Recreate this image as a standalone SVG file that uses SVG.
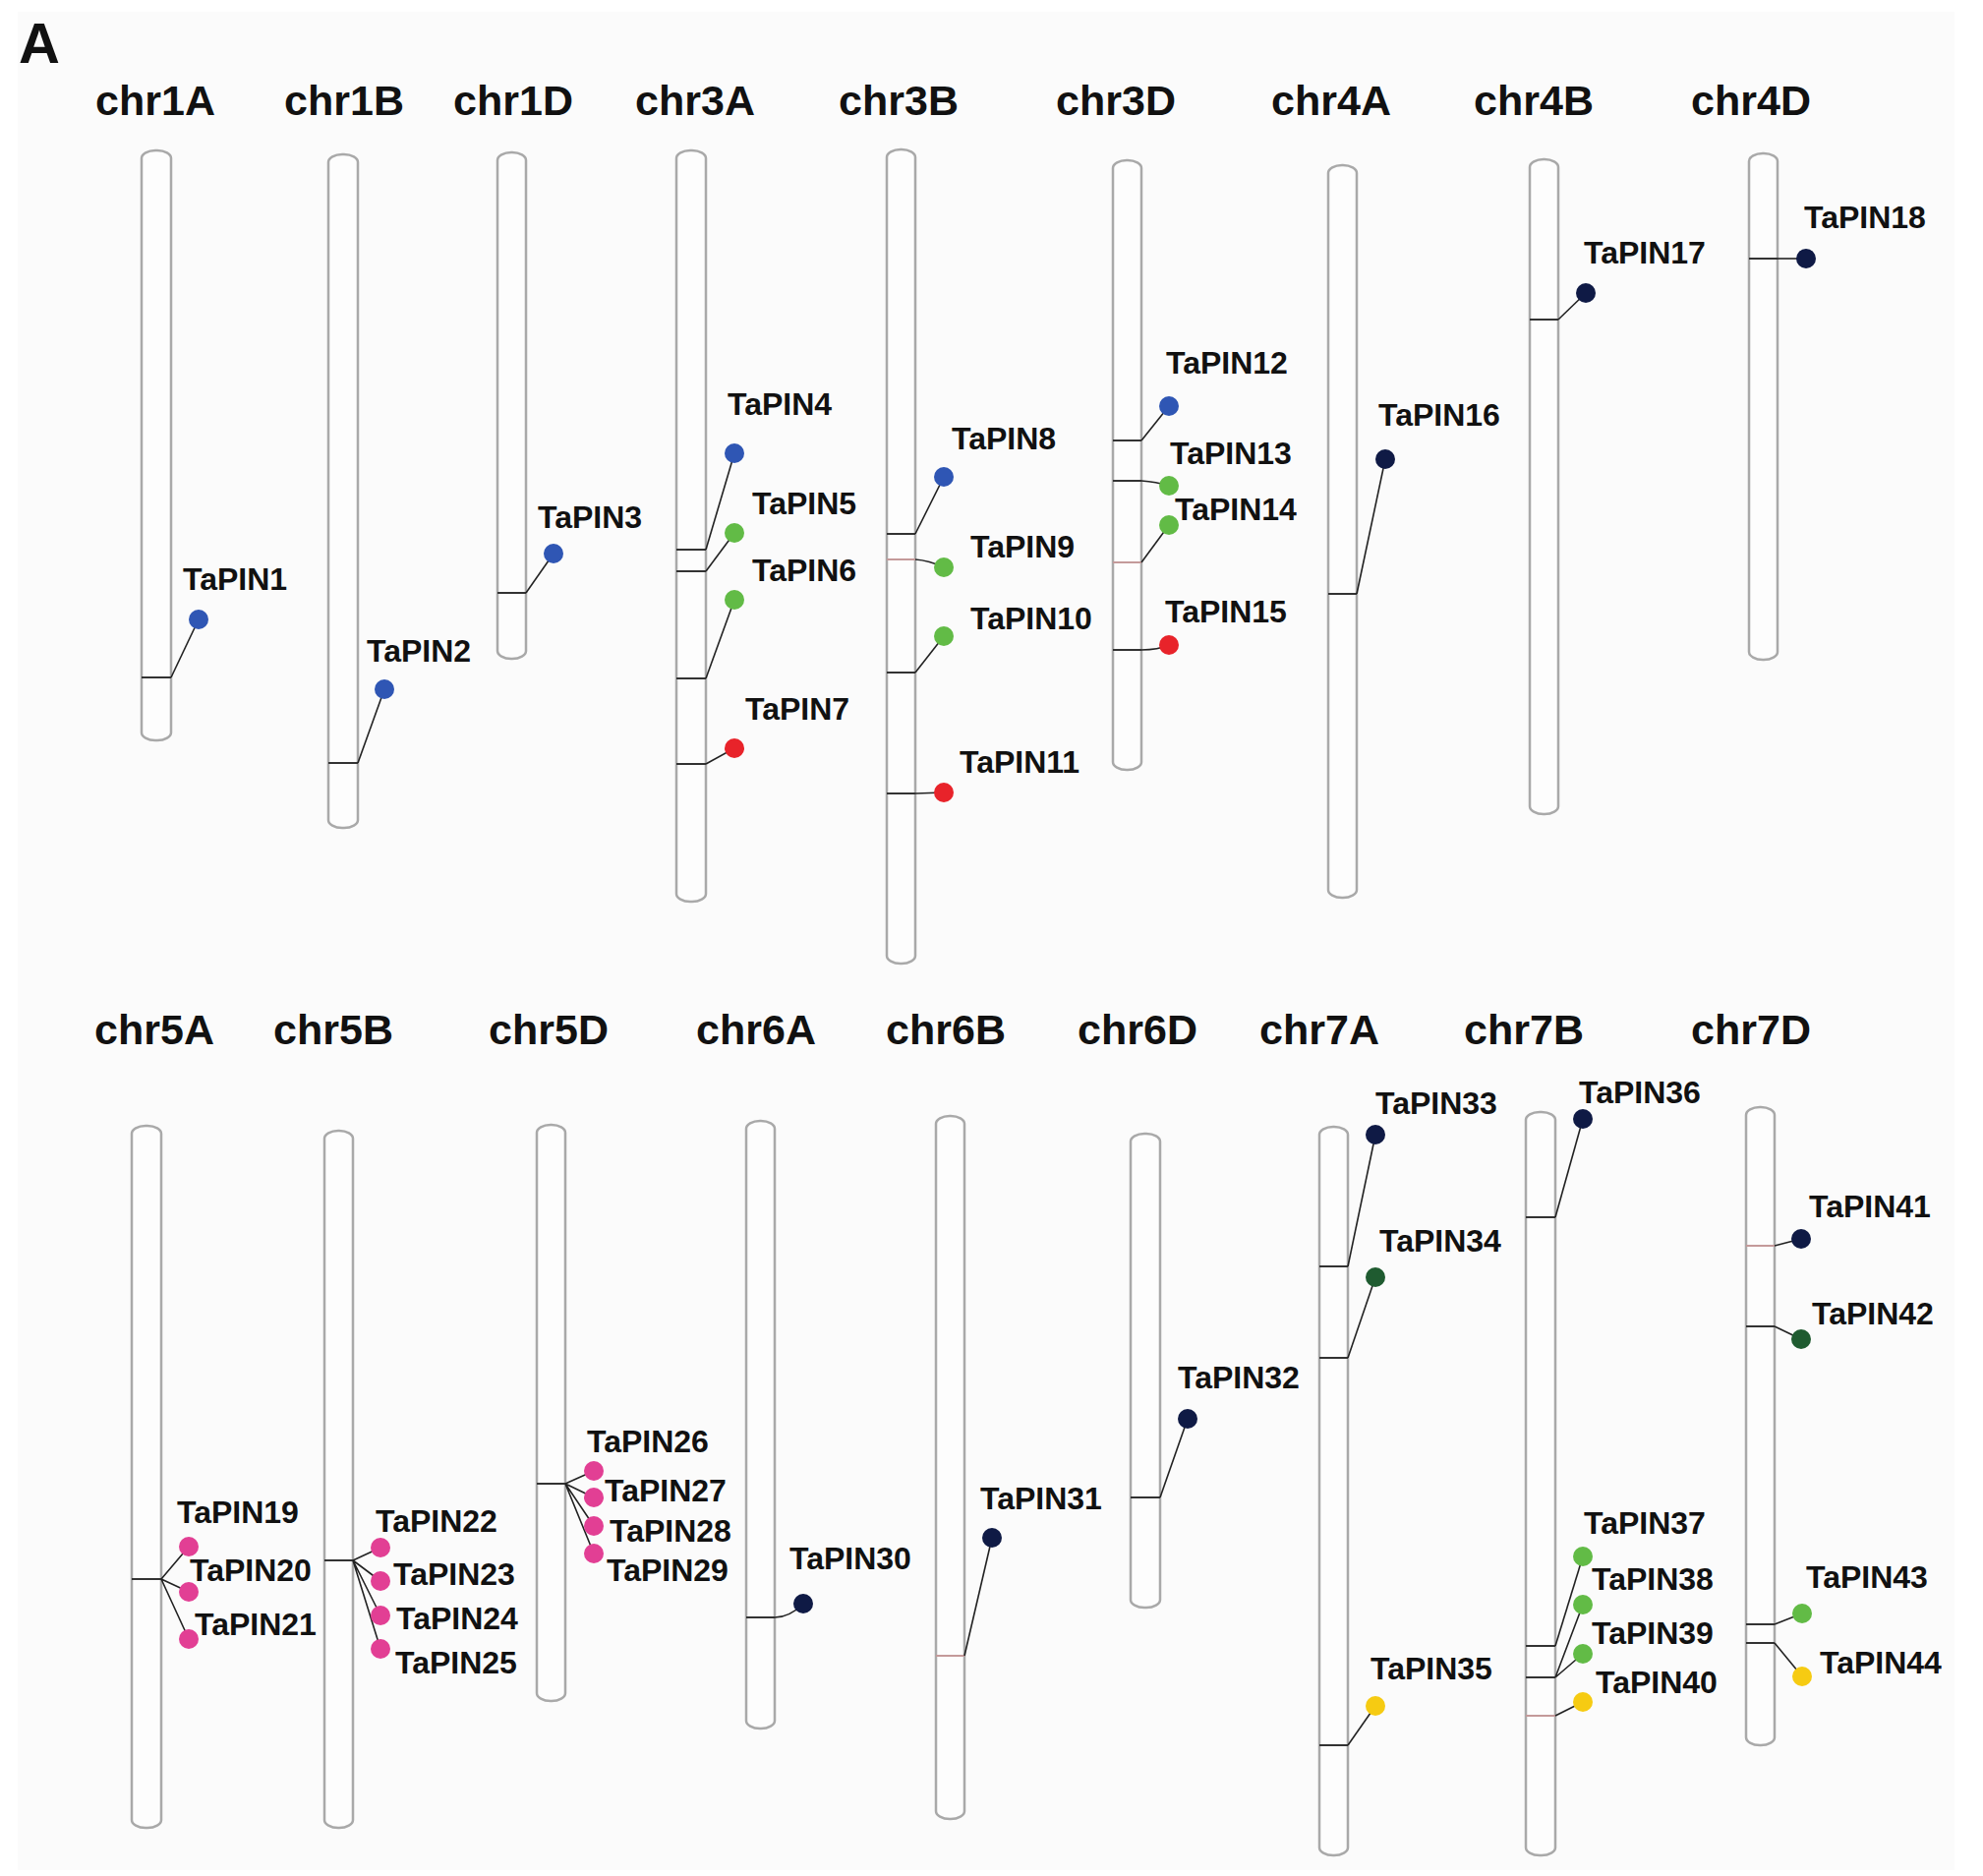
<svg xmlns="http://www.w3.org/2000/svg" width="2017" height="1908" viewBox="0 0 2017 1908">
<style>
.bg{fill:#ffffff}
.panel{fill:#fbfbfb}
.chr{fill:#fdfdfd;stroke:#a9a9a9;stroke-width:2.5}
.cn{font-family:"Liberation Sans",Arial,sans-serif;font-weight:bold;font-size:43px;fill:#111;text-anchor:middle}
.gl{font-family:"Liberation Sans",Arial,sans-serif;font-weight:bold;font-size:32px;fill:#111}
.tk{stroke:#333;stroke-width:2;fill:none}
.tk2{stroke:#c49a9a;stroke-width:2;fill:none}
.ln{stroke:#222;stroke-width:1.6;fill:none}
.blue{fill:#2f56b4}
.green{fill:#62bb46}
.red{fill:#e8232a}
.navy{fill:#0f1a45}
.dgreen{fill:#1f5b30}
.pink{fill:#e23f94}
.yellow{fill:#f6cb12}
</style>
<rect class="bg" x="0" y="0" width="2017" height="1908"/>
<rect class="panel" x="18" y="12" width="1970" height="1890"/>
<text x="19" y="64" font-family="Liberation Sans, Arial, sans-serif" font-weight="bold" font-size="58" fill="#111">A</text>

<g id="chromosomes">
<g id="chr1A"><rect class="chr" x="144" y="153" width="30" height="600" rx="14" ry="8"/><text class="cn" x="158" y="117">chr1A</text></g>
<g id="chr1B"><rect class="chr" x="334" y="157" width="30" height="685" rx="14" ry="8"/><text class="cn" x="350" y="117">chr1B</text></g>
<g id="chr1D"><rect class="chr" x="506" y="155" width="29" height="515" rx="14" ry="8"/><text class="cn" x="522" y="117">chr1D</text></g>
<g id="chr3A"><rect class="chr" x="688" y="153" width="30" height="764" rx="14" ry="8"/><text class="cn" x="707" y="117">chr3A</text></g>
<g id="chr3B"><rect class="chr" x="902" y="152" width="29" height="828" rx="14" ry="8"/><text class="cn" x="914" y="117">chr3B</text></g>
<g id="chr3D"><rect class="chr" x="1132" y="163" width="29" height="620" rx="14" ry="8"/><text class="cn" x="1135" y="117">chr3D</text></g>
<g id="chr4A"><rect class="chr" x="1351" y="168" width="29" height="745" rx="14" ry="8"/><text class="cn" x="1354" y="117">chr4A</text></g>
<g id="chr4B"><rect class="chr" x="1556" y="162" width="29" height="666" rx="14" ry="8"/><text class="cn" x="1560" y="117">chr4B</text></g>
<g id="chr4D"><rect class="chr" x="1779" y="156" width="29" height="515" rx="14" ry="8"/><text class="cn" x="1781" y="117">chr4D</text></g>
<g id="chr5A"><rect class="chr" x="134" y="1145" width="30" height="714" rx="14" ry="8"/><text class="cn" x="157" y="1062">chr5A</text></g>
<g id="chr5B"><rect class="chr" x="330" y="1150" width="29" height="709" rx="14" ry="8"/><text class="cn" x="339" y="1062">chr5B</text></g>
<g id="chr5D"><rect class="chr" x="546" y="1144" width="29" height="586" rx="14" ry="8"/><text class="cn" x="558" y="1062">chr5D</text></g>
<g id="chr6A"><rect class="chr" x="759" y="1140" width="29" height="618" rx="14" ry="8"/><text class="cn" x="769" y="1062">chr6A</text></g>
<g id="chr6B"><rect class="chr" x="952" y="1135" width="29" height="715" rx="14" ry="8"/><text class="cn" x="962" y="1062">chr6B</text></g>
<g id="chr6D"><rect class="chr" x="1150" y="1153" width="30" height="482" rx="14" ry="8"/><text class="cn" x="1157" y="1062">chr6D</text></g>
<g id="chr7A"><rect class="chr" x="1342" y="1146" width="29" height="741" rx="14" ry="8"/><text class="cn" x="1342" y="1062">chr7A</text></g>
<g id="chr7B"><rect class="chr" x="1552" y="1131" width="30" height="756" rx="14" ry="8"/><text class="cn" x="1550" y="1062">chr7B</text></g>
<g id="chr7D"><rect class="chr" x="1776" y="1126" width="29" height="649" rx="14" ry="8"/><text class="cn" x="1781" y="1062">chr7D</text></g>
</g>

<g id="connectors">
<path class="tk" d="M144 689H174"/><path class="ln" d="M174 689L202 630"/>
<path class="tk" d="M334 776H364"/><path class="ln" d="M364 776L391 701"/>
<path class="tk" d="M506 603H535"/><path class="ln" d="M535 603L563 563"/>
<path class="tk" d="M688 559H718"/><path class="ln" d="M718 559L747 461"/>
<path class="tk" d="M688 581H718"/><path class="ln" d="M718 581L747 542"/>
<path class="tk" d="M688 690H718"/><path class="ln" d="M718 690L747 610"/>
<path class="tk" d="M688 777H718"/><path class="ln" d="M718 777L747 761"/>
<path class="tk" d="M902 543H931"/><path class="ln" d="M931 543L960 485"/>
<path class="tk2" d="M902 569H931"/><path class="ln" d="M931 569Q945 570 960 577"/>
<path class="tk" d="M902 684H931"/><path class="ln" d="M931 684L960 647"/>
<path class="tk" d="M902 807H931"/><path class="ln" d="M931 807L960 806"/>
<path class="tk" d="M1132 448H1161"/><path class="ln" d="M1161 448L1189 413"/>
<path class="tk" d="M1132 489H1161"/><path class="ln" d="M1161 489Q1176 490 1189 494"/>
<path class="tk2" d="M1132 572H1161"/><path class="ln" d="M1161 572L1189 534"/>
<path class="tk" d="M1132 661H1161"/><path class="ln" d="M1161 661Q1178 661 1189 656"/>
<path class="tk" d="M1351 604H1380"/><path class="ln" d="M1380 604L1409 467"/>
<path class="tk" d="M1556 325H1585"/><path class="ln" d="M1585 325L1613 298"/>
<path class="tk" d="M1779 263H1808"/><path class="ln" d="M1808 263L1837 263"/>
<path class="tk" d="M134 1606H164"/><path class="ln" d="M164 1606L192 1573M164 1606L192 1619M164 1606L192 1667"/>
<path class="tk" d="M330 1587H359"/><path class="ln" d="M359 1587L387 1574M359 1587L387 1608M359 1587L387 1643M359 1587L387 1677"/>
<path class="tk" d="M546 1509H575"/><path class="ln" d="M575 1509L604 1496M575 1509L604 1523M575 1509L604 1552M575 1509L604 1580"/>
<path class="tk" d="M759 1645H788"/><path class="ln" d="M788 1645Q803 1645 817 1631"/>
<path class="tk2" d="M952 1684H981"/><path class="ln" d="M981 1684L1009 1564"/>
<path class="tk" d="M1150 1523H1180"/><path class="ln" d="M1180 1523L1208 1443"/>
<path class="tk" d="M1342 1288H1371"/><path class="ln" d="M1371 1288L1399 1154"/>
<path class="tk" d="M1342 1381H1371"/><path class="ln" d="M1371 1381L1399 1299"/>
<path class="tk" d="M1342 1775H1371"/><path class="ln" d="M1371 1775L1399 1735"/>
<path class="tk" d="M1552 1238H1582"/><path class="ln" d="M1582 1238L1610 1138"/>
<path class="tk" d="M1552 1674H1582"/><path class="ln" d="M1582 1674L1610 1583"/>
<path class="tk" d="M1552 1706H1582"/><path class="ln" d="M1582 1706L1610 1632M1582 1706L1610 1682"/>
<path class="tk2" d="M1552 1745H1582"/><path class="ln" d="M1582 1745L1610 1731"/>
<path class="tk2" d="M1776 1267H1805"/><path class="ln" d="M1805 1267L1832 1260"/>
<path class="tk" d="M1776 1349H1805"/><path class="ln" d="M1805 1349L1832 1362"/>
<path class="tk" d="M1776 1652H1805"/><path class="ln" d="M1805 1652L1833 1641"/>
<path class="tk" d="M1776 1671H1805"/><path class="ln" d="M1805 1671L1833 1705"/>
</g>

<g id="genes">
<g id="TaPIN1"><circle class="blue" cx="202" cy="630" r="10"/><text class="gl" x="186" y="600">TaPIN1</text></g>
<g id="TaPIN2"><circle class="blue" cx="391" cy="701" r="10"/><text class="gl" x="373" y="673">TaPIN2</text></g>
<g id="TaPIN3"><circle class="blue" cx="563" cy="563" r="10"/><text class="gl" x="547" y="537">TaPIN3</text></g>
<g id="TaPIN4"><circle class="blue" cx="747" cy="461" r="10"/><text class="gl" x="740" y="422">TaPIN4</text></g>
<g id="TaPIN5"><circle class="green" cx="747" cy="542" r="10"/><text class="gl" x="765" y="523">TaPIN5</text></g>
<g id="TaPIN6"><circle class="green" cx="747" cy="610" r="10"/><text class="gl" x="765" y="591">TaPIN6</text></g>
<g id="TaPIN7"><circle class="red" cx="747" cy="761" r="10"/><text class="gl" x="758" y="732">TaPIN7</text></g>
<g id="TaPIN8"><circle class="blue" cx="960" cy="485" r="10"/><text class="gl" x="968" y="457">TaPIN8</text></g>
<g id="TaPIN9"><circle class="green" cx="960" cy="577" r="10"/><text class="gl" x="987" y="567">TaPIN9</text></g>
<g id="TaPIN10"><circle class="green" cx="960" cy="647" r="10"/><text class="gl" x="987" y="640">TaPIN10</text></g>
<g id="TaPIN11"><circle class="red" cx="960" cy="806" r="10"/><text class="gl" x="976" y="786">TaPIN11</text></g>
<g id="TaPIN12"><circle class="blue" cx="1189" cy="413" r="10"/><text class="gl" x="1186" y="380">TaPIN12</text></g>
<g id="TaPIN13"><circle class="green" cx="1189" cy="494" r="10"/><text class="gl" x="1190" y="472">TaPIN13</text></g>
<g id="TaPIN14"><circle class="green" cx="1189" cy="534" r="10"/><text class="gl" x="1195" y="529">TaPIN14</text></g>
<g id="TaPIN15"><circle class="red" cx="1189" cy="656" r="10"/><text class="gl" x="1185" y="633">TaPIN15</text></g>
<g id="TaPIN16"><circle class="navy" cx="1409" cy="467" r="10"/><text class="gl" x="1402" y="433">TaPIN16</text></g>
<g id="TaPIN17"><circle class="navy" cx="1613" cy="298" r="10"/><text class="gl" x="1611" y="268">TaPIN17</text></g>
<g id="TaPIN18"><circle class="navy" cx="1837" cy="263" r="10"/><text class="gl" x="1835" y="232">TaPIN18</text></g>
<g id="TaPIN19"><circle class="pink" cx="192" cy="1573" r="10"/><text class="gl" x="180" y="1549">TaPIN19</text></g>
<g id="TaPIN20"><circle class="pink" cx="192" cy="1619" r="10"/><text class="gl" x="193" y="1608">TaPIN20</text></g>
<g id="TaPIN21"><circle class="pink" cx="192" cy="1667" r="10"/><text class="gl" x="198" y="1663">TaPIN21</text></g>
<g id="TaPIN22"><circle class="pink" cx="387" cy="1574" r="10"/><text class="gl" x="382" y="1558">TaPIN22</text></g>
<g id="TaPIN23"><circle class="pink" cx="387" cy="1608" r="10"/><text class="gl" x="400" y="1612">TaPIN23</text></g>
<g id="TaPIN24"><circle class="pink" cx="387" cy="1643" r="10"/><text class="gl" x="403" y="1657">TaPIN24</text></g>
<g id="TaPIN25"><circle class="pink" cx="387" cy="1677" r="10"/><text class="gl" x="402" y="1702">TaPIN25</text></g>
<g id="TaPIN26"><circle class="pink" cx="604" cy="1496" r="10"/><text class="gl" x="597" y="1477">TaPIN26</text></g>
<g id="TaPIN27"><circle class="pink" cx="604" cy="1523" r="10"/><text class="gl" x="615" y="1527">TaPIN27</text></g>
<g id="TaPIN28"><circle class="pink" cx="604" cy="1552" r="10"/><text class="gl" x="620" y="1568">TaPIN28</text></g>
<g id="TaPIN29"><circle class="pink" cx="604" cy="1580" r="10"/><text class="gl" x="617" y="1608">TaPIN29</text></g>
<g id="TaPIN30"><circle class="navy" cx="817" cy="1631" r="10"/><text class="gl" x="803" y="1596">TaPIN30</text></g>
<g id="TaPIN31"><circle class="navy" cx="1009" cy="1564" r="10"/><text class="gl" x="997" y="1535">TaPIN31</text></g>
<g id="TaPIN32"><circle class="navy" cx="1208" cy="1443" r="10"/><text class="gl" x="1198" y="1412">TaPIN32</text></g>
<g id="TaPIN33"><circle class="navy" cx="1399" cy="1154" r="10"/><text class="gl" x="1399" y="1133">TaPIN33</text></g>
<g id="TaPIN34"><circle class="dgreen" cx="1399" cy="1299" r="10"/><text class="gl" x="1403" y="1273">TaPIN34</text></g>
<g id="TaPIN35"><circle class="yellow" cx="1399" cy="1735" r="10"/><text class="gl" x="1394" y="1708">TaPIN35</text></g>
<g id="TaPIN36"><circle class="navy" cx="1610" cy="1138" r="10"/><text class="gl" x="1606" y="1122">TaPIN36</text></g>
<g id="TaPIN37"><circle class="green" cx="1610" cy="1583" r="10"/><text class="gl" x="1611" y="1560">TaPIN37</text></g>
<g id="TaPIN38"><circle class="green" cx="1610" cy="1632" r="10"/><text class="gl" x="1619" y="1617">TaPIN38</text></g>
<g id="TaPIN39"><circle class="green" cx="1610" cy="1682" r="10"/><text class="gl" x="1619" y="1672">TaPIN39</text></g>
<g id="TaPIN40"><circle class="yellow" cx="1610" cy="1731" r="10"/><text class="gl" x="1623" y="1722">TaPIN40</text></g>
<g id="TaPIN41"><circle class="navy" cx="1832" cy="1260" r="10"/><text class="gl" x="1840" y="1238">TaPIN41</text></g>
<g id="TaPIN42"><circle class="dgreen" cx="1832" cy="1362" r="10"/><text class="gl" x="1843" y="1347">TaPIN42</text></g>
<g id="TaPIN43"><circle class="green" cx="1833" cy="1641" r="10"/><text class="gl" x="1837" y="1615">TaPIN43</text></g>
<g id="TaPIN44"><circle class="yellow" cx="1833" cy="1705" r="10"/><text class="gl" x="1851" y="1702">TaPIN44</text></g>
</g>
</svg>
